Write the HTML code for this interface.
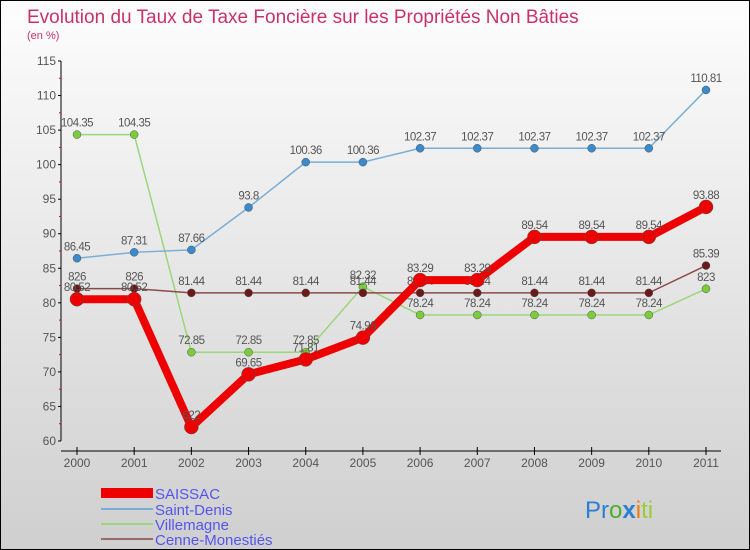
<!DOCTYPE html>
<html><head><meta charset="utf-8"><style>
body{margin:0}
#c{width:750px;height:550px;position:relative;box-sizing:border-box;border:1px solid #000;background:linear-gradient(#fdfdfd,#cfcfcf);font-family:"Liberation Sans",sans-serif;overflow:hidden}
</style></head><body>
<div id="c">
<svg id="s" width="750" height="550" style="position:absolute;left:0;top:0">
<text x="26" y="22" font-size="19" fill="#c8326a">Evolution du Taux de Taxe Foncière sur les Propriétés Non Bâties</text>
<text x="26" y="38" font-size="11" fill="#c8326a">(en %)</text>
<g id="ax"></g><g id="ser"></g>
<g>
<rect x="100" y="487" width="52" height="10" fill="#e00"/>
<text x="154" y="498" font-size="15" fill="#5555ee">SAISSAC</text>
<line x1="100" y1="508" x2="152" y2="508" stroke="#7aaed6" stroke-width="2"/>
<text x="154" y="514" font-size="15" fill="#5555ee">Saint-Denis</text>
<line x1="100" y1="523" x2="152" y2="523" stroke="#9cd67a" stroke-width="2"/>
<text x="154" y="529" font-size="15" fill="#5555ee">Villemagne</text>
<line x1="100" y1="538" x2="152" y2="538" stroke="#9a6a6a" stroke-width="2"/>
<text x="154" y="544" font-size="15" fill="#5555ee">Cenne-Monestiés</text>
</g>
<g font-size="24"><text x="584" y="517"><tspan fill="#2a7fd4">Pr</tspan><tspan fill="#4caf32">o</tspan><tspan fill="#2a7fd4" font-weight="bold">x</tspan><tspan fill="#f07a10">i</tspan><tspan fill="#9acd32">ti</tspan></text></g>
</svg>
</div>
<script>
const years=["2000","2001","2002","2003","2004","2005","2006","2007","2008","2009","2010","2011"];
const yTicks=[60,65,70,75,80,85,90,95,100,105,110,115];
const saissac=[80.52,80.52,62.02,69.65,71.81,74.96,83.29,83.29,89.54,89.54,89.54,93.88];
const saintDenis=[86.45,87.31,87.66,93.8,100.36,100.36,102.37,102.37,102.37,102.37,102.37,110.81];
const villemagne=[104.35,104.35,72.85,72.85,72.85,82.32,78.24,78.24,78.24,78.24,78.24,82.03];
const cenne=[82.06,82.06,81.44,81.44,81.44,81.44,81.44,81.44,81.44,81.44,81.44,85.39];
const NS="http://www.w3.org/2000/svg";
const X=i=>76+i*(705-76)/(years.length-1);
const Y=v=>440-(v-60)*(380/55);
function mk(t,a,p){const e=document.createElementNS(NS,t);for(const k in a)e.setAttribute(k,a[k]);p.appendChild(e);return e;}
const ax=document.getElementById('ax');
const yl=mk('line',{x1:60,y1:Y(115),x2:60,y2:Y(60),stroke:'#000'},ax);


yTicks.forEach(v=>{mk('line',{x1:57,y1:Y(v),x2:60,y2:Y(v),stroke:'#000'},ax);
mk('line',{x1:58,y1:Y(v+2.5),x2:60,y2:Y(v+2.5),stroke:v<115?'#e00':'none'},ax);
const t=mk('text',{x:55,y:Y(v)+4,'font-size':12,'text-anchor':'end',fill:'#555'},ax);t.textContent=v;

});
const xl=mk('line',{x1:60,y1:450,x2:720,y2:450,stroke:'#000'},ax);


years.forEach((y,i)=>{mk('line',{x1:X(i),y1:446,x2:X(i),y2:454,stroke:'#000'},ax);
const t=mk('text',{x:X(i),y:466,'font-size':12,'text-anchor':'middle',fill:'#555'},ax);t.textContent=y;

});
const ser=document.getElementById('ser');
function series(d,name,col,dot,w,r){
const g=mk('g',{},ser);


const pl=mk('polyline',{points:d.map((v,i)=>X(i)+','+Y(v)).join(' '),fill:'none',stroke:col,'stroke-width':w,'stroke-linejoin':'round'},g);


d.forEach((v,i)=>{const c=mk('circle',{cx:X(i),cy:Y(v),r:r,fill:dot,stroke:'#555','stroke-width':0.5},g);


const t=mk('text',{x:X(i),y:Y(v)-8,'font-size':11.5,'text-anchor':'middle',fill:'#555','letter-spacing':'-0.5'},g);t.textContent=String(v).replace('.0','');

});}
series(villemagne,'villemagne','#9cd67a','#7acc3a',1.5,4);
series(saintDenis,'saint-denis','#7aaed6','#3a8acc',1.5,4);
series(cenne,'cenne-monesties','#8a4a4a','#6a1a1a',1.5,4);
series(saissac,'saissac','#e00','#e00',8,7);
</script>
</body></html>
